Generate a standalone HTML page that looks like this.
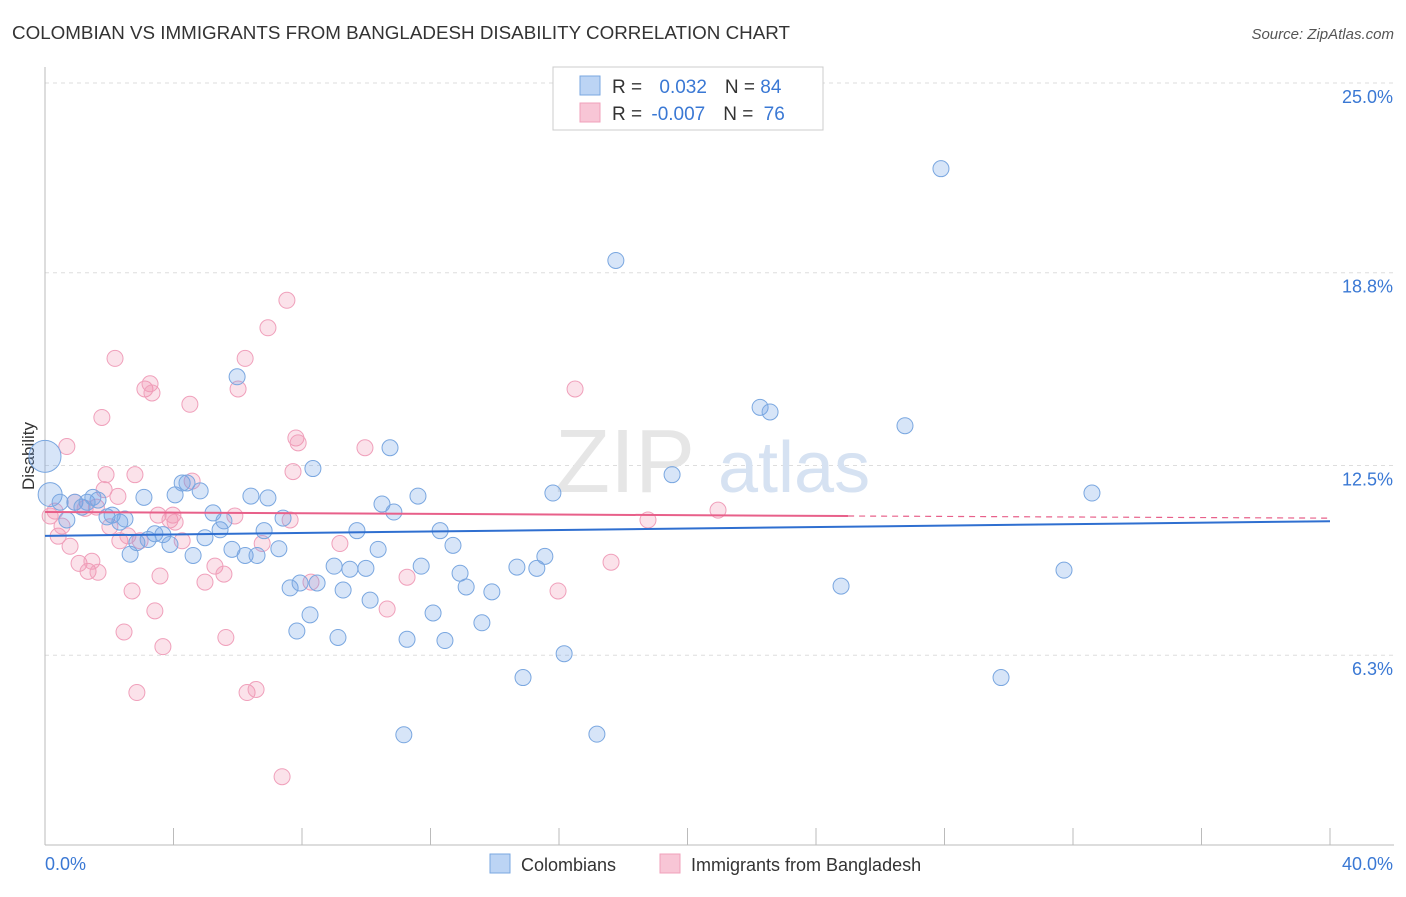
<!DOCTYPE html>
<html><head><meta charset="utf-8"><style>
body{margin:0;background:#fff;font-family:"Liberation Sans",sans-serif;}
svg text{font-family:"Liberation Sans",sans-serif;}
</style></head><body>
<svg width="1406" height="892">
<text x="12" y="39" font-size="18" fill="#333" textLength="778" lengthAdjust="spacingAndGlyphs">COLOMBIAN VS IMMIGRANTS FROM BANGLADESH DISABILITY CORRELATION CHART</text>
<text x="1394" y="39" font-size="15" fill="#555" font-style="italic" text-anchor="end">Source: ZipAtlas.com</text>
<g id="grid"></g>
<g id="axes"></g>
<text x="555" y="492" font-size="90" fill="#e6e6e6" font-family="Liberation Serif">ZIP</text>
<text x="718" y="492" font-size="72" fill="#d6e2f2">atlas</text>
<text transform="translate(34,456) rotate(-90)" font-size="17" fill="#333" text-anchor="middle">Disability</text>
<g id="pts"></g>
<g id="trend"></g>
<g>
<rect x="553" y="67" width="270" height="63" fill="#fff" stroke="#ccc"/>
<rect x="580" y="76" width="20" height="19" fill="#bcd4f4" stroke="#7aa7e0"/>
<rect x="580" y="103" width="20" height="19" fill="#f8c6d6" stroke="#f0a0bb"/>
<text x="612" y="93" font-size="19" fill="#333">R = <tspan fill="#3a78d4" dx="12">0.032</tspan><tspan fill="#333" dx="18">N = </tspan><tspan fill="#3a78d4">84</tspan></text>
<text x="612" y="120" font-size="19" fill="#333">R = <tspan fill="#3a78d4" dx="4">-0.007</tspan><tspan fill="#333" dx="18">N = </tspan><tspan fill="#3a78d4" dx="5">76</tspan></text>
</g>
<g>
<rect x="490" y="854" width="20" height="19" fill="#bcd4f4" stroke="#7aa7e0"/>
<text x="521" y="871" font-size="18" fill="#333">Colombians</text>
<rect x="660" y="854" width="20" height="19" fill="#f8c6d6" stroke="#f0a0bb"/>
<text x="691" y="871" font-size="18" fill="#333">Immigrants from Bangladesh</text>
</g>
</svg>
<script>
const yTicks=[25.0,18.8,12.5,6.3];
const yTickLabels=["25.0%","18.8%","12.5%","6.3%"];
const xTicks=[0,4,8,12,16,20,24,28,32,36,40];
const blueX=[0.0,0.16,0.47,0.68,0.93,1.15,1.31,1.49,1.65,1.93,2.09,2.33,2.49,2.65,2.86,3.08,3.21,3.42,3.67,3.89,4.05,4.27,4.42,4.61,4.83,4.98,5.23,5.45,5.57,5.82,5.98,6.23,6.41,6.6,6.82,6.94,7.28,7.41,7.63,7.84,7.94,8.25,8.34,8.47,9.0,9.12,9.28,9.49,9.71,9.99,10.12,10.37,10.49,10.74,10.86,11.27,11.17,11.61,11.71,12.08,12.3,12.45,12.7,12.92,13.11,13.6,13.91,14.69,14.88,15.31,15.56,15.81,16.16,17.18,17.77,19.52,22.26,22.57,24.78,26.77,27.89,29.76,31.72,32.59];
const blueY=[12.8,11.55,11.3,10.72,11.3,11.14,11.3,11.46,11.37,10.82,10.88,10.65,10.75,9.6,9.98,11.46,10.08,10.27,10.24,9.92,11.54,11.93,11.93,9.56,11.67,10.14,10.95,10.4,10.69,9.76,15.4,9.56,11.5,9.56,10.37,11.44,9.78,10.78,8.5,7.09,8.66,7.62,12.4,8.66,9.21,6.88,8.43,9.11,10.37,9.14,8.1,9.76,11.24,13.08,10.98,6.82,3.7,11.5,9.21,7.68,10.37,6.78,9.89,8.98,8.53,7.36,8.37,9.18,5.57,9.14,9.53,11.6,6.35,3.72,19.2,12.2,14.4,14.25,8.56,13.8,22.2,5.57,9.08,11.6];
const pinkX=[0.16,0.31,0.41,0.53,0.68,0.78,0.93,1.06,1.25,1.34,1.46,1.6,1.65,1.77,1.84,1.9,2.02,2.18,2.27,2.33,2.46,2.58,2.71,2.8,2.86,2.96,3.11,3.27,3.33,3.42,3.52,3.58,3.67,3.89,3.98,4.05,4.27,4.51,4.58,4.98,5.29,5.57,5.63,5.91,6.01,6.23,6.29,6.57,6.76,6.94,7.38,7.53,7.63,7.72,7.81,7.88,8.28,9.18,9.96,10.65,11.27,16.5,15.97,17.62,18.77,20.95];
const pinkY=[10.85,11.01,10.19,10.52,13.12,9.86,11.3,9.3,11.1,9.04,9.37,11.14,9.01,14.07,11.71,12.2,10.5,16.0,11.49,10.04,7.06,10.2,8.4,12.2,5.08,10.04,15.0,15.17,14.87,7.75,10.88,8.89,6.58,10.72,10.88,10.65,10.04,14.5,11.99,8.69,9.21,8.95,6.88,10.85,15.0,16.0,5.08,5.18,9.95,17.0,2.33,17.9,10.72,12.3,13.4,13.24,8.69,9.95,13.08,7.81,8.85,15.0,8.4,9.34,10.72,11.04];
const blueTrend=[10.2,10.68];
const pinkTrend=[10.98,10.85,10.78];
const X0=45,X1=1330,Y25=83,PY=30.6;
const xs=v=>X0+(v/40)*(X1-X0);
const ys=v=>Y25+(25-v)*PY;
const NS="http://www.w3.org/2000/svg";
function mk(t,a,p){const e=document.createElementNS(NS,t);for(const k in a)e.setAttribute(k,a[k]);p.appendChild(e);return e;}
const grid=document.getElementById('grid'),axes=document.getElementById('axes');
yTicks.forEach((v,i)=>{
 const l=mk('line',{x1:45,x2:1394,y1:ys(v),y2:ys(v),stroke:'#ddd','stroke-dasharray':'4,4'},grid);
 
 
 const t=mk('text',{x:1393,y:ys(v)+20,'font-size':18,fill:'#3a78d4','text-anchor':'end'},axes);
 t.textContent=yTickLabels[i];
 
 
});
const ya=mk('line',{x1:45,x2:45,y1:67,y2:845,stroke:'#bbb'},axes);


const xa=mk('line',{x1:45,x2:1394,y1:845,y2:845,stroke:'#bbb'},axes);


xTicks.forEach(v=>{
 const l=mk('line',{x1:xs(v),x2:xs(v),y1:828,y2:845,stroke:'#bbb'},axes);
 
 
});
[[0,"0.0%",'start',45],[40,"40.0%",'end',1393]].forEach(d=>{
 const t=mk('text',{x:d[3],y:870,'font-size':18,fill:'#3a78d4','text-anchor':d[2]},axes);
 t.textContent=d[1];
 
 
});
const pts=document.getElementById('pts');
pinkX.forEach((x,i)=>{
 const c=mk('circle',{cx:xs(x),cy:ys(pinkY[i]),r:8,fill:'rgba(240,140,170,0.25)',stroke:'#f0a0bb','stroke-width':1},pts);
 
 
});
blueX.forEach((x,i)=>{
 const r=i<2?(i==0?16:12):8;
 const c=mk('circle',{cx:xs(x),cy:ys(blueY[i]),r:r,fill:'rgba(110,160,230,0.28)',stroke:'#7aa7e0','stroke-width':1},pts);
 
 
});
const tr=document.getElementById('trend');
const b=mk('line',{x1:xs(0),y1:ys(blueTrend[0]),x2:xs(40),y2:ys(blueTrend[1]),stroke:'#2f6fd0','stroke-width':2},tr);


const p1=mk('line',{x1:xs(0),y1:ys(pinkTrend[0]),x2:xs(25),y2:ys(pinkTrend[1]),stroke:'#e8608a','stroke-width':2},tr);


const p2=mk('line',{x1:xs(25),y1:ys(pinkTrend[1]),x2:xs(40),y2:ys(pinkTrend[2]),stroke:'#e8608a','stroke-width':1.2,'stroke-dasharray':'6,5'},tr);


</script>
</body></html>
